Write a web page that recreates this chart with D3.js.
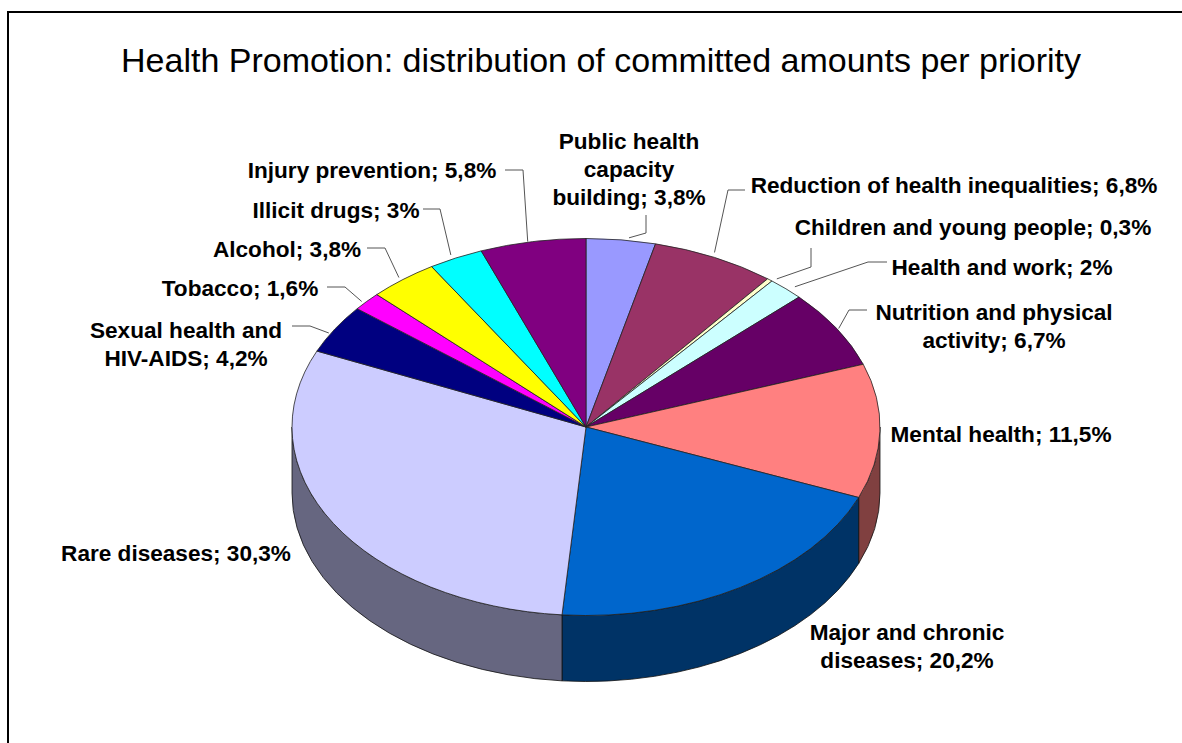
<!DOCTYPE html>
<html>

<head>
  <script src="https://d3js.org/d3.v7.min.js"></script>
  <meta charset='utf-8'>
  <title>Health Promotion</title>
  <style>
    body {
      margin: 0;
      background: #fff;
    }

    svg {
      display: block;
    }

    text {
      font-family: "Liberation Sans", Arial, sans-serif;
      fill: #000;
    }

    .label {
      font-size: 22.6px;
      font-weight: bold;
      text-anchor: middle;
    }

    .leader {
      fill: none;
      stroke: #555;
      stroke-width: 1;
    }
  </style>
</head>

<body>
  <div id='chart'></div>
  <script>
    var titleText = 'Health Promotion: distribution of committed amounts per priority';

    var categories = ['Public health capacity building', 'Reduction of health inequalities',
      'Children and young people', 'Health and work', 'Nutrition and physical activity',
      'Mental health', 'Major and chronic diseases', 'Rare diseases', 'Sexual health and HIV-AIDS',
      'Tobacco', 'Alcohol', 'Illicit drugs', 'Injury prevention'];
    var values = [3.8, 6.8, 0.3, 2, 6.7, 11.5, 20.2, 30.3, 4.2, 1.6, 3.8, 3, 5.8];
    var valueLabels = ['3,8%', '6,8%', '0,3%', '2%', '6,7%', '11,5%', '20,2%', '30,3%', '4,2%', '1,6%', '3,8%', '3%', '5,8%'];
    var colors = ['#9999ff', '#993366', '#ffffcc', '#ccffff', '#660066', '#ff8080', '#0066cc',
      '#ccccff', '#000080', '#ff00ff', '#ffff00', '#00ffff', '#800080'];

    // label line breaks, the value goes on the end of the last line
    var labelLines = [['Public health', 'capacity', 'building;'], ['Reduction of health inequalities;'],
      ['Children and young people;'], ['Health and work;'], ['Nutrition and physical', 'activity;'],
      ['Mental health;'], ['Major and chronic', 'diseases;'], ['Rare diseases;'], ['Sexual health and', 'HIV-AIDS;'],
      ['Tobacco;'], ['Alcohol;'], ['Illicit drugs;'], ['Injury prevention;']];

    // centre x, first baseline y of each label
    var labelPos = [[629, 149], [954, 193], [973, 235], [1002, 275], [994, 320], [1001, 442], [907, 640],
      [176, 561], [186, 338], [240, 296], [287, 257], [336, 218], [372, 178]];

    // leader lines: far end, elbow, nudge of the end touching the rim
    var leaders = [
      [[646, 215], [646, 233], [8, -2]],
      [[745, 190], [728, 190], [0, -5]],
      [[811, 248], [811, 267], [7, -1]],
      [[887, 262], [868, 262], [9, -2]],
      [[867, 310], [849, 310], [2, 0]],
      null, null, null,
      [[292, 326], [310, 326], [-6, 4]],
      [[327, 287], [345, 287], [-5, 0]],
      [[367, 248], [385, 248], [-4, -2]],
      [[423, 209], [440, 209], [-5, -3]],
      [[505, 170], [523, 170], [-5, 0]]
    ];

    var width = 1182,
      height = 743,
      cx = 586,
      cy = 427,
      rx = 294,
      ry = 188.5,
      depth = 66;

    var svg = d3.select('#chart')
      .append('svg')
      .attr('width', width)
      .attr('height', height);

    // frame runs off the right and bottom of the picture
    svg.append('path')
      .attr('d', 'M8,' + height + 'V12H' + width)
      .attr('fill', 'none')
      .attr('stroke', '#000')
      .attr('stroke-width', 2);

    svg.append('text')
      .attr('x', 601)
      .attr('y', 72)
      .attr('text-anchor', 'middle')
      .style('font-size', '34px')
      .text(titleText);

    var pie = d3.pie()
      .value(function(d) { return d; })
      .sort(null);

    var slices = pie(values);

    var rimX = d3.scaleLinear().domain([-1, 1]).range([cx - rx, cx + rx]);
    var rimY = d3.scaleLinear().domain([-1, 1]).range([cy - ry, cy + ry]);

    function px(a) {
      return rimX(Math.sin(a));
    }

    function py(a) {
      return rimY(-Math.cos(a));
    }

    // Side wall of the pie, only the part of a slice facing the viewer (90 to 270 deg).
    function wall(d) {
      var a0 = Math.max(d.startAngle, Math.PI / 2),
        a1 = Math.min(d.endAngle, Math.PI * 3 / 2);
      if (a0 >= a1) return null;
      return 'M' + px(a0) + ',' + py(a0) +
        'A' + rx + ',' + ry + ' 0 0 1 ' + px(a1) + ',' + py(a1) +
        'V' + (py(a1) + depth) +
        'A' + rx + ',' + ry + ' 0 0 0 ' + px(a0) + ',' + (py(a0) + depth) +
        'Z';
    }

    svg.append('g')
      .selectAll('path')
      .data(slices)
      .enter()
      .append('path')
      .attr('d', wall)
      .attr('fill', function(d, i) {
        var c = d3.rgb(colors[i]);
        return d3.rgb(c.r / 2, c.g / 2, c.b / 2);
      })
      .attr('stroke', '#111')
      .attr('stroke-width', 0.8);

    var arc = d3.arc()
      .innerRadius(0)
      .outerRadius(rx);

    svg.append('g')
      .attr('transform', 'translate(' + cx + ',' + cy + ') scale(1,' + (ry / rx) + ')')
      .selectAll('path')
      .data(slices)
      .enter()
      .append('path')
      .attr('d', arc)
      .attr('fill', function(d, i) { return colors[i]; })
      .attr('stroke', '#222')
      .attr('stroke-width', 0.8)
      .attr('vector-effect', 'non-scaling-stroke');

    var line = d3.line();

    svg.append('g')
      .selectAll('path')
      .data(slices)
      .enter()
      .append('path')
      .attr('class', 'leader')
      .attr('d', function(d, i) {
        var l = leaders[i];
        if (!l) return null;
        var mid = (d.startAngle + d.endAngle) / 2;
        return line([l[0], l[1], [px(mid) + l[2][0], py(mid) + l[2][1]]]);
      });

    var labels = svg.append('g')
      .selectAll('text')
      .data(categories)
      .enter()
      .append('text')
      .attr('class', 'label')
      .attr('transform', function(d, i) {
        return 'translate(' + labelPos[i][0] + ',' + labelPos[i][1] + ')';
      });

    labels.selectAll('tspan')
      .data(function(d, i) {
        return labelLines[i].map(function(t, j) {
          return j === labelLines[i].length - 1 ? t + ' ' + valueLabels[i] : t;
        });
      })
      .enter()
      .append('tspan')
      .attr('x', 0)
      .attr('dy', function(d, j) { return j ? 28 : 0; })
      .text(function(d) { return d; });
  </script>
</body>

</html>
